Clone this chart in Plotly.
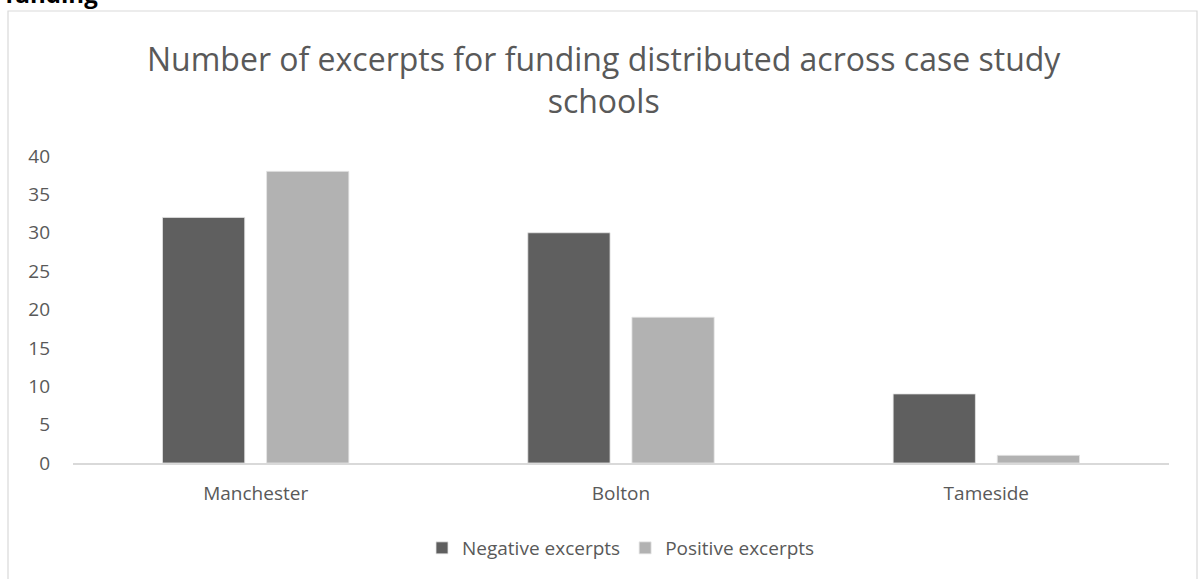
import plotly.graph_objects as go

categories = ["Manchester", "Bolton", "Tameside"]
negative = [32, 30, 9]
positive = [38, 19, 1]
series_names = ["Negative excerpts", "Positive excerpts"]
title_text = "Number of excerpts for funding distributed across case study<br>schools"
y_ticks = [0, 5, 10, 15, 20, 25, 30, 35, 40]

W, H = 1202, 579
L, R, T, B = 73, 33, 156, 116
pw, ph = W - L - R, H - T - B

def px_x(p):
    return (p - L) / pw

def px_y(p):
    return (H - B - p) / ph

fig = go.Figure()
fig.add_trace(go.Bar(x=categories, y=negative, name=series_names[0],
                     marker=dict(color="#5f5f5f", line=dict(color="#e6e6e6", width=0.8))))
fig.add_trace(go.Bar(x=categories, y=positive, name=series_names[1],
                     marker=dict(color="#b2b2b2", line=dict(color="#e6e6e6", width=0.8))))

fig.update_layout(
    width=W, height=H,
    margin=dict(l=L, r=R, t=T, b=B, autoexpand=False),
    paper_bgcolor="white", plot_bgcolor="white",
    barmode="group", bargap=0.43, bargroupgap=0.21,
    font=dict(family="Open Sans, Liberation Sans, sans-serif", color="#595959", size=19),
    showlegend=True,
    legend=dict(orientation="h", x=0.5, xanchor="center", y=px_y(548), yanchor="middle",
                font=dict(size=19, color="#595959"), itemwidth=30, traceorder="normal"),
    xaxis=dict(showline=True, linecolor="#d9d9d9", linewidth=1.5, ticks="",
               tickfont=dict(size=19, color="#595959"), showgrid=False, zeroline=False,
               ticklabelstandoff=12),
    yaxis=dict(range=[0, 40], tickvals=y_ticks, showgrid=False, zeroline=False, showline=False,
               tickfont=dict(size=19, color="#595959"), ticklabelstandoff=22),
)

fig.add_annotation(text=title_text, xref="paper", yref="paper", x=px_x(604), y=px_y(80),
                   xanchor="center", yanchor="middle", showarrow=False, align="center",
                   font=dict(size=32, color="#595959", family="Open Sans, sans-serif"))

fig.add_annotation(text="<b>funding</b>", xref="paper", yref="paper", x=px_x(4), y=px_y(-7),
                   xanchor="left", yanchor="middle", showarrow=False, borderpad=0,
                   font=dict(size=24, color="#000000", family="Open Sans, sans-serif"))

fig.add_shape(type="rect", xref="paper", yref="paper",
              x0=px_x(8), x1=px_x(1197), y0=px_y(600), y1=px_y(11),
              line=dict(color="#d9d9d9", width=1.2), fillcolor="rgba(0,0,0,0)", layer="below")

fig.write_html("out.html")
